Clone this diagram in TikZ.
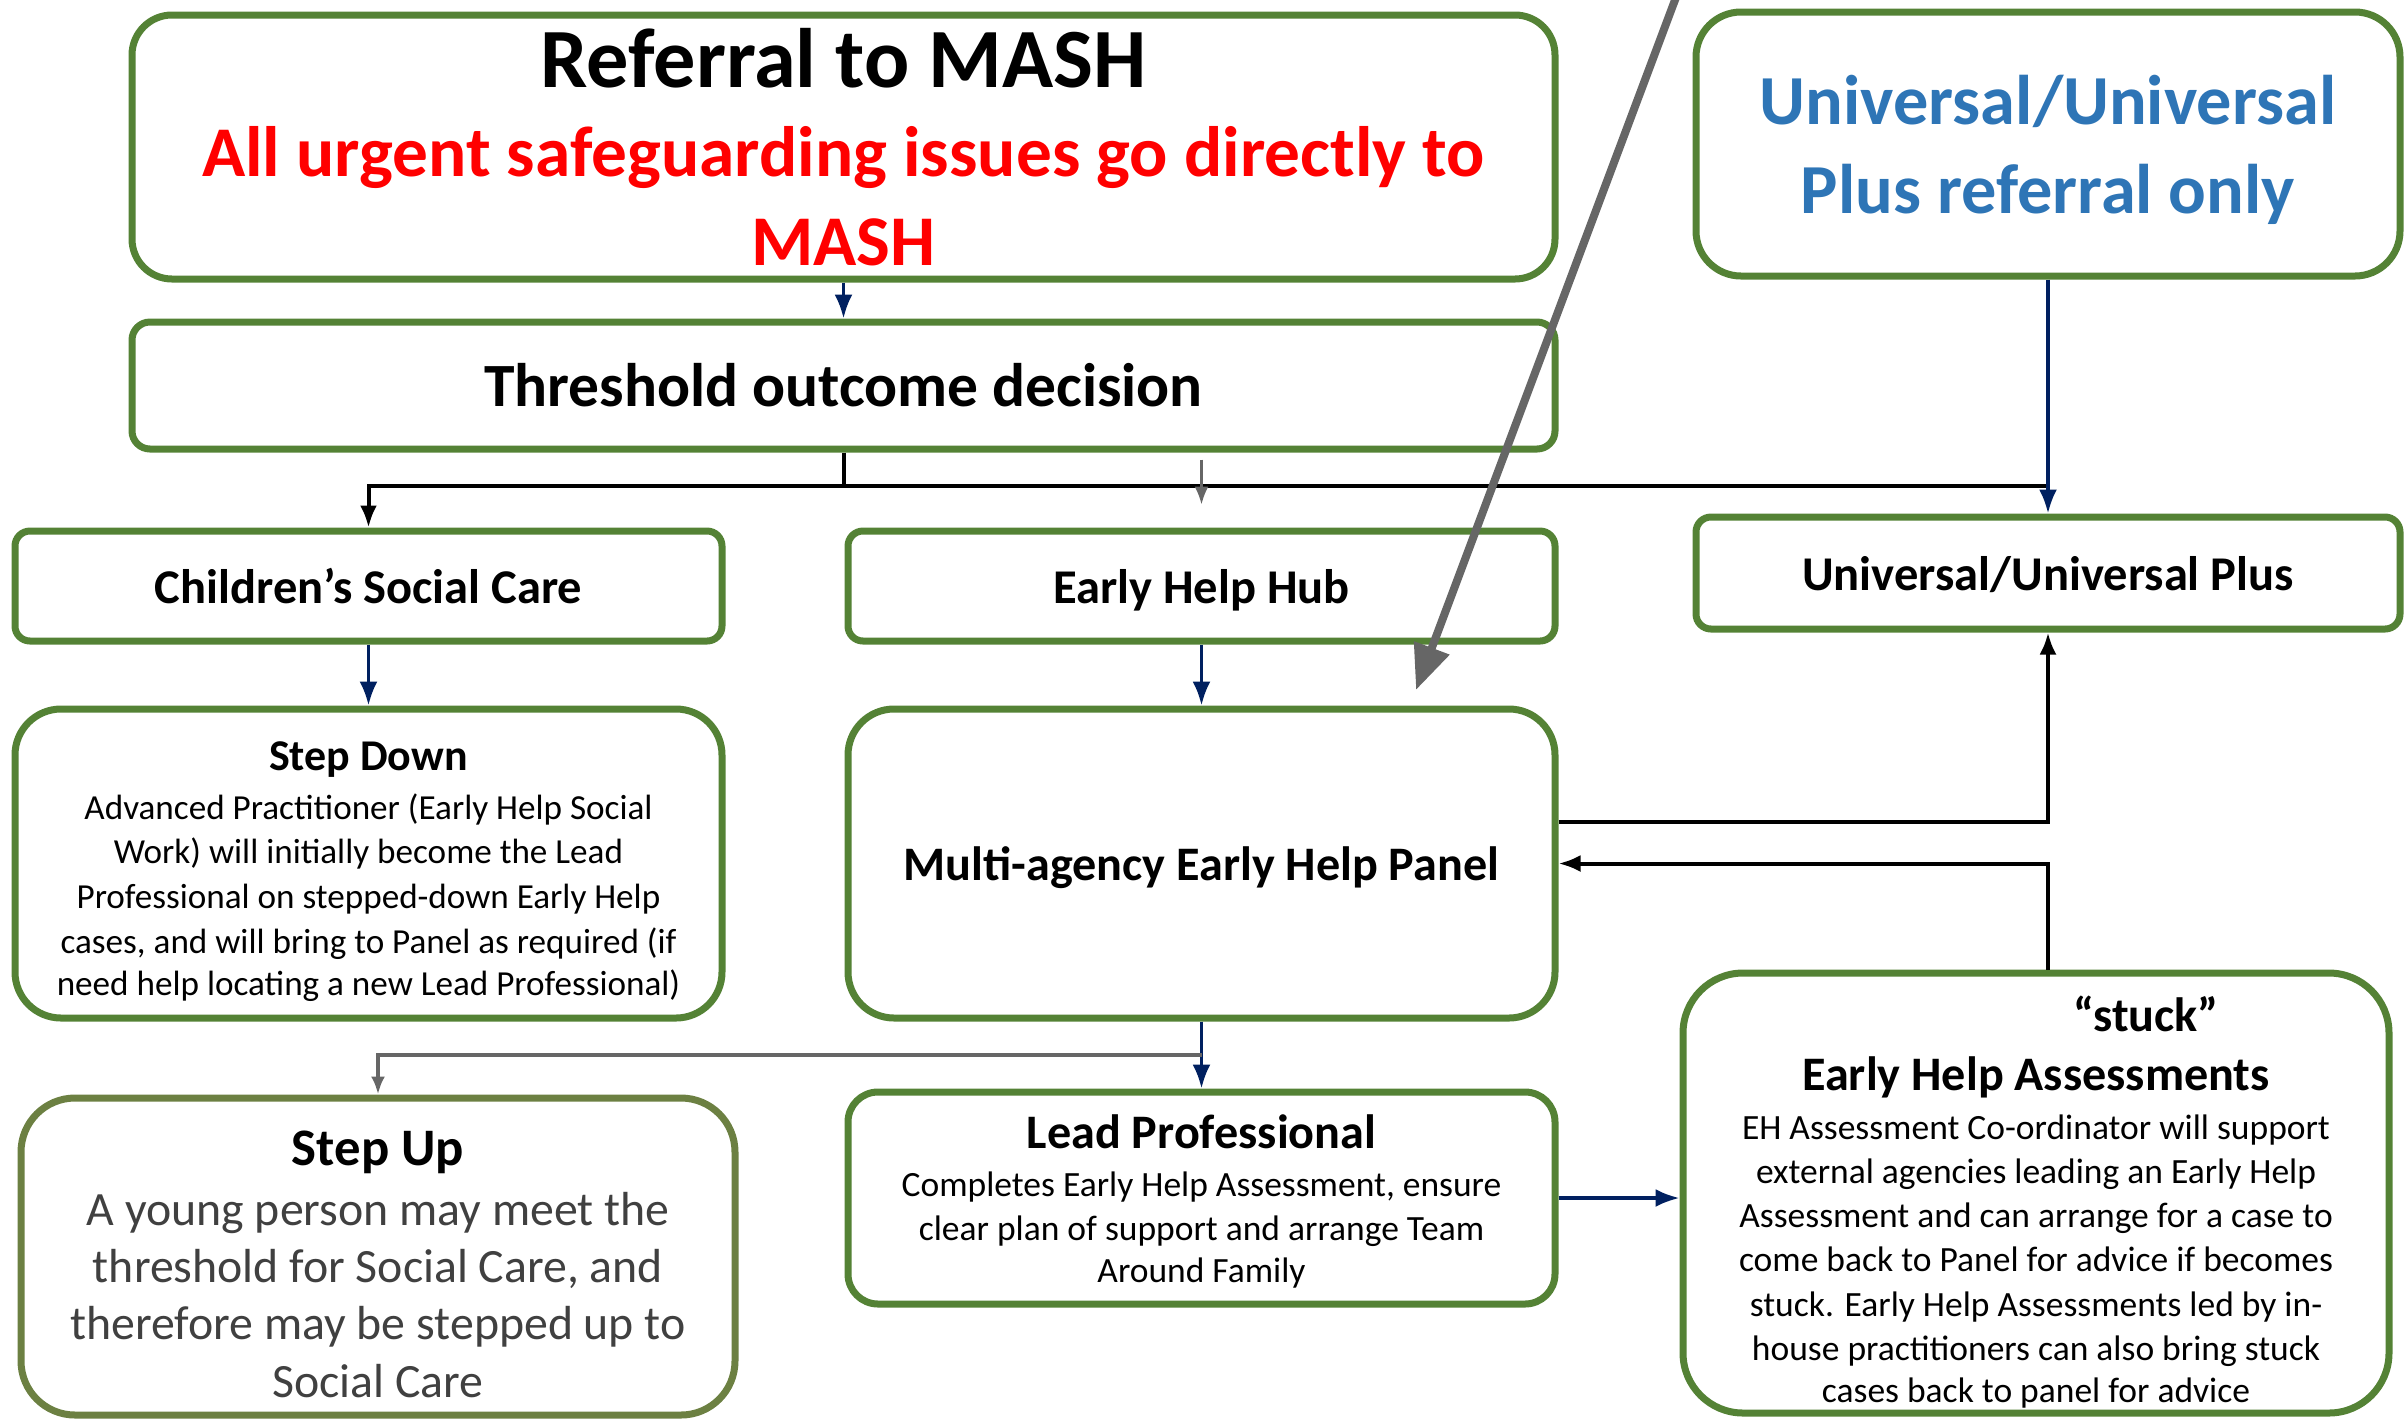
\documentclass[tikz,border=0pt]{standalone}
\usepackage{fontspec}
\setmainfont{Carlito}
\usetikzlibrary{arrows.meta,positioning,calc}
\definecolor{boxgreen}{RGB}{84,130,53}
\definecolor{olivegreen}{RGB}{108,128,66}
\definecolor{navyblue}{RGB}{0,32,96}
\definecolor{titleblue}{RGB}{46,117,182}
\definecolor{midgray}{RGB}{102,102,102}
\definecolor{textgray}{RGB}{64,64,64}
\definecolor{alertred}{RGB}{255,0,0}

\begin{document}
\begin{tikzpicture}[x=0.1mm, y=-0.1mm,
    greenbox/.style={draw=boxgreen, line width=0.7mm, fill=white, align=flush center, inner sep=0pt},
    smallbox/.style={greenbox, rounded corners=1.5mm, minimum width=70.7mm, minimum height=11mm, text height=3.4mm, text depth=0pt, font=\fontsize{13.8}{16}\selectfont\bfseries},
    bigbox/.style={greenbox, rounded corners=4.6mm, minimum width=70.7mm, minimum height=30.9mm, text width=68mm},
    firstline/.style={text height=0pt, text depth=#1},
    bluearrow/.style={-{Latex[length=2.4mm,width=1.8mm]}, navyblue, line width=0.35mm},
    blackarrow/.style={-{Latex[length=2.2mm,width=1.7mm]}, black, line width=0.4mm},
    grayarrow/.style={-{Latex[length=1.8mm,width=1.4mm]}, midgray, line width=0.4mm}
]
\useasboundingbox (0,0) rectangle (2405,1418);

\node[greenbox, rounded corners=4mm, minimum width=142.3mm, minimum height=26.4mm, text width=140mm] (referral) at (843.5,147)
  {{\fontsize{24}{26}\selectfont\bfseries Referral to MASH\par}
   {\color{alertred}\fontsize{20.3}{25.3}\selectfont\bfseries All urgent safeguarding issues go directly to\\ MASH\par}};

\node[greenbox, rounded corners=1.8mm, minimum width=142.3mm, minimum height=12.7mm, font=\fontsize{17.5}{20}\selectfont\bfseries] (threshold) at (843.5,385.5) {Threshold outcome decision};

\node[greenbox, rounded corners=4.5mm, minimum width=70.4mm, minimum height=26.4mm, text width=68mm, firstline=4mm, text=titleblue, font=\fontsize{20}{25.6}\selectfont\bfseries] (uref) at (2048,144) {Universal/Universal\\ Plus referral only};

\node[smallbox] (csc) at (368.5,586) {Children's Social Care};
\node[smallbox] (hub) at (1201.5,586) {Early Help Hub};
\node[smallbox, minimum width=70.4mm, minimum height=11.2mm] (univ) at (2048,573) {Universal/Universal Plus};

\node[bigbox, firstline=18.7mm] (stepdown) at (368.5,863.5)
  {{\fontsize{12.5}{13}\selectfont\bfseries Step Down\par}\vspace{0.45mm}
   \fontsize{10}{12.7}\selectfont Advanced Practitioner (Early Help Social\\ Work) will initially become the Lead\\ Professional on stepped-down Early Help\\ cases, and will bring to Panel as required (if\\ need help locating a new Lead Professional)};

\node[bigbox, text depth=0pt, font=\fontsize{13.7}{16}\selectfont\bfseries] (panel) at (1201.5,863.5) {Multi-agency Early Help Panel};

\node[greenbox, draw=olivegreen, rounded corners=5.4mm, minimum width=71.4mm, minimum height=31.7mm, text width=69mm, firstline=18.3mm] (stepup) at (378,1256.5)
  {{\fontsize{15}{17}\selectfont\bfseries Step Up\par}\vspace{0.3mm}
   {\color{textgray}\fontsize{13.6}{16.3}\selectfont A young person may meet the\\ threshold for Social Care, and\\ therefore may be stepped up to\\ Social Care\par}};

\node[greenbox, rounded corners=3mm, minimum width=70.7mm, minimum height=21.2mm, text width=68mm, firstline=9.9mm] (lead) at (1201.5,1198)
  {{\fontsize{13.7}{14}\selectfont\bfseries Lead Professional\par}\vspace{0.35mm}
   \fontsize{10.1}{12.6}\selectfont Completes Early Help Assessment, ensure\\ clear plan of support and arrange Team\\ Around Family};

\node[greenbox, rounded corners=6mm, minimum width=70.6mm, minimum height=44mm, text width=68mm, firstline=32.4mm] (stuck) at (2036,1193)
  {{\fontsize{13.7}{17}\selectfont\bfseries \hspace*{22mm}``stuck''\\ Early Help Assessments\par}\vspace{0.4mm}
   \fontsize{10.1}{12.6}\selectfont EH Assessment Co-ordinator will support\\ external agencies leading an Early Help\\ Assessment and can arrange for a case to\\ come back to Panel for advice if becomes\\ stuck. Early Help Assessments led by in-\\ house practitioners can also bring stuck\\ cases back to panel for advice};

\coordinate (split) at ($(threshold.south)+(0,33)$);
\draw[blackarrow] (threshold.south) -- (split) -| (csc.north);
\draw[black, line width=0.4mm] (split) -- (split -| uref.south);

\coordinate (hubtop) at ($(hub.north)+(0,-68)$);
\coordinate (hubnear) at ($(hub.north)+(0,-23)$);
\draw[grayarrow, line width=0.25mm] (hubtop) -- (hubnear);

\foreach \a/\b in {referral/threshold,uref/univ,csc/stepdown,hub/panel,panel/lead}
  \draw[bluearrow] (\a.south) -- (\b.north);
\draw[bluearrow] (lead.east) -- (lead.east -| stuck.west);

\draw[blackarrow] ([yshift=4.2mm]panel.east) -| (univ.south);
\draw[blackarrow] (stuck.north -| univ.south) |- (panel.east);

\coordinate (branch) at ($(panel.south)!0.5!(lead.north)$);
\draw[grayarrow] (branch) -| (stepup.north);

\coordinate (farend) at (1690,-40);
\coordinate (tip) at (1416,690);
\draw[-{Triangle[length=4.5mm,width=3.6mm]}, midgray, line width=0.8mm] (farend) -- (tip);
\end{tikzpicture}
\end{document}
